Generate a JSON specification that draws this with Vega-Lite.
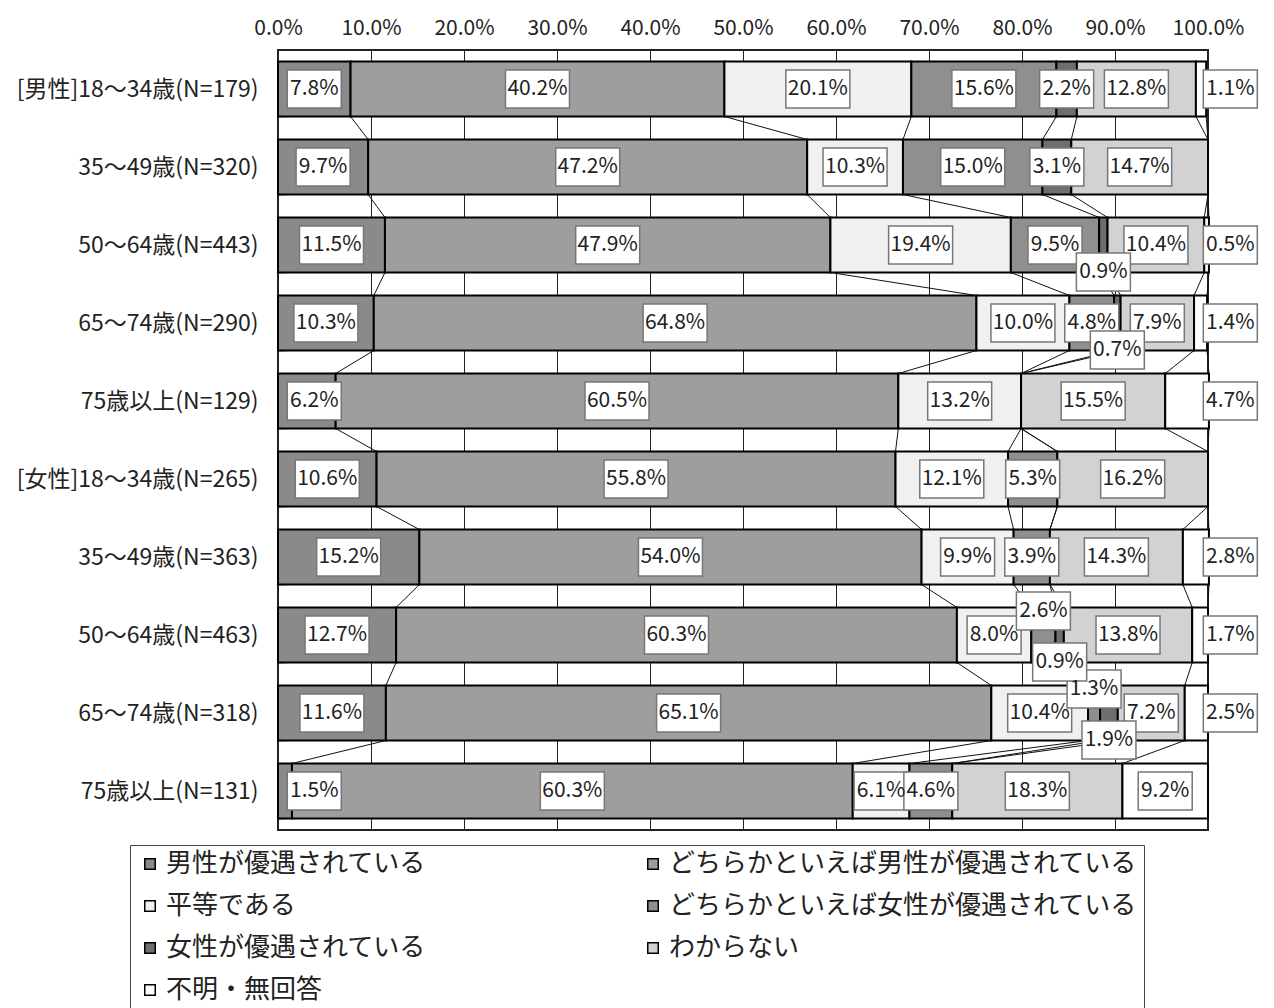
{
  "$schema": "https://vega.github.io/schema/vega-lite/v6.json",
  "width": 930,
  "height": 780,
  "autosize": {"type": "none"},
  "padding": {"left": 278, "top": 50, "right": 66, "bottom": 178},
  "background": "white",
  "config": {
    "font": "Noto Sans CJK JP",
    "view": {"stroke": "#222", "strokeWidth": 2}
  },
  "data": {
    "values": [
      {"ri": 0, "row": "[男性]18～34歳(N=179)", "k": 1, "cat": "男性が優遇されている", "value": 7.8},
      {"ri": 0, "row": "[男性]18～34歳(N=179)", "k": 2, "cat": "どちらかといえば男性が優遇されている", "value": 40.2},
      {"ri": 0, "row": "[男性]18～34歳(N=179)", "k": 3, "cat": "平等である", "value": 20.1},
      {"ri": 0, "row": "[男性]18～34歳(N=179)", "k": 4, "cat": "どちらかといえば女性が優遇されている", "value": 15.6},
      {"ri": 0, "row": "[男性]18～34歳(N=179)", "k": 5, "cat": "女性が優遇されている", "value": 2.2},
      {"ri": 0, "row": "[男性]18～34歳(N=179)", "k": 6, "cat": "わからない", "value": 12.8},
      {"ri": 0, "row": "[男性]18～34歳(N=179)", "k": 7, "cat": "不明・無回答", "value": 1.1},
      {"ri": 1, "row": "35～49歳(N=320)", "k": 1, "cat": "男性が優遇されている", "value": 9.7},
      {"ri": 1, "row": "35～49歳(N=320)", "k": 2, "cat": "どちらかといえば男性が優遇されている", "value": 47.2},
      {"ri": 1, "row": "35～49歳(N=320)", "k": 3, "cat": "平等である", "value": 10.3},
      {"ri": 1, "row": "35～49歳(N=320)", "k": 4, "cat": "どちらかといえば女性が優遇されている", "value": 15.0},
      {"ri": 1, "row": "35～49歳(N=320)", "k": 5, "cat": "女性が優遇されている", "value": 3.1},
      {"ri": 1, "row": "35～49歳(N=320)", "k": 6, "cat": "わからない", "value": 14.7},
      {"ri": 1, "row": "35～49歳(N=320)", "k": 7, "cat": "不明・無回答", "value": 0},
      {"ri": 2, "row": "50～64歳(N=443)", "k": 1, "cat": "男性が優遇されている", "value": 11.5},
      {"ri": 2, "row": "50～64歳(N=443)", "k": 2, "cat": "どちらかといえば男性が優遇されている", "value": 47.9},
      {"ri": 2, "row": "50～64歳(N=443)", "k": 3, "cat": "平等である", "value": 19.4},
      {"ri": 2, "row": "50～64歳(N=443)", "k": 4, "cat": "どちらかといえば女性が優遇されている", "value": 9.5},
      {"ri": 2, "row": "50～64歳(N=443)", "k": 5, "cat": "女性が優遇されている", "value": 0.9},
      {"ri": 2, "row": "50～64歳(N=443)", "k": 6, "cat": "わからない", "value": 10.4},
      {"ri": 2, "row": "50～64歳(N=443)", "k": 7, "cat": "不明・無回答", "value": 0.5},
      {"ri": 3, "row": "65～74歳(N=290)", "k": 1, "cat": "男性が優遇されている", "value": 10.3},
      {"ri": 3, "row": "65～74歳(N=290)", "k": 2, "cat": "どちらかといえば男性が優遇されている", "value": 64.8},
      {"ri": 3, "row": "65～74歳(N=290)", "k": 3, "cat": "平等である", "value": 10.0},
      {"ri": 3, "row": "65～74歳(N=290)", "k": 4, "cat": "どちらかといえば女性が優遇されている", "value": 4.8},
      {"ri": 3, "row": "65～74歳(N=290)", "k": 5, "cat": "女性が優遇されている", "value": 0.7},
      {"ri": 3, "row": "65～74歳(N=290)", "k": 6, "cat": "わからない", "value": 7.9},
      {"ri": 3, "row": "65～74歳(N=290)", "k": 7, "cat": "不明・無回答", "value": 1.4},
      {"ri": 4, "row": "75歳以上(N=129)", "k": 1, "cat": "男性が優遇されている", "value": 6.2},
      {"ri": 4, "row": "75歳以上(N=129)", "k": 2, "cat": "どちらかといえば男性が優遇されている", "value": 60.5},
      {"ri": 4, "row": "75歳以上(N=129)", "k": 3, "cat": "平等である", "value": 13.2},
      {"ri": 4, "row": "75歳以上(N=129)", "k": 4, "cat": "どちらかといえば女性が優遇されている", "value": 0},
      {"ri": 4, "row": "75歳以上(N=129)", "k": 5, "cat": "女性が優遇されている", "value": 0},
      {"ri": 4, "row": "75歳以上(N=129)", "k": 6, "cat": "わからない", "value": 15.5},
      {"ri": 4, "row": "75歳以上(N=129)", "k": 7, "cat": "不明・無回答", "value": 4.7},
      {"ri": 5, "row": "[女性]18～34歳(N=265)", "k": 1, "cat": "男性が優遇されている", "value": 10.6},
      {"ri": 5, "row": "[女性]18～34歳(N=265)", "k": 2, "cat": "どちらかといえば男性が優遇されている", "value": 55.8},
      {"ri": 5, "row": "[女性]18～34歳(N=265)", "k": 3, "cat": "平等である", "value": 12.1},
      {"ri": 5, "row": "[女性]18～34歳(N=265)", "k": 4, "cat": "どちらかといえば女性が優遇されている", "value": 5.3},
      {"ri": 5, "row": "[女性]18～34歳(N=265)", "k": 5, "cat": "女性が優遇されている", "value": 0},
      {"ri": 5, "row": "[女性]18～34歳(N=265)", "k": 6, "cat": "わからない", "value": 16.2},
      {"ri": 5, "row": "[女性]18～34歳(N=265)", "k": 7, "cat": "不明・無回答", "value": 0},
      {"ri": 6, "row": "35～49歳(N=363)", "k": 1, "cat": "男性が優遇されている", "value": 15.2},
      {"ri": 6, "row": "35～49歳(N=363)", "k": 2, "cat": "どちらかといえば男性が優遇されている", "value": 54.0},
      {"ri": 6, "row": "35～49歳(N=363)", "k": 3, "cat": "平等である", "value": 9.9},
      {"ri": 6, "row": "35～49歳(N=363)", "k": 4, "cat": "どちらかといえば女性が優遇されている", "value": 3.9},
      {"ri": 6, "row": "35～49歳(N=363)", "k": 5, "cat": "女性が優遇されている", "value": 0},
      {"ri": 6, "row": "35～49歳(N=363)", "k": 6, "cat": "わからない", "value": 14.3},
      {"ri": 6, "row": "35～49歳(N=363)", "k": 7, "cat": "不明・無回答", "value": 2.8},
      {"ri": 7, "row": "50～64歳(N=463)", "k": 1, "cat": "男性が優遇されている", "value": 12.7},
      {"ri": 7, "row": "50～64歳(N=463)", "k": 2, "cat": "どちらかといえば男性が優遇されている", "value": 60.3},
      {"ri": 7, "row": "50～64歳(N=463)", "k": 3, "cat": "平等である", "value": 8.0},
      {"ri": 7, "row": "50～64歳(N=463)", "k": 4, "cat": "どちらかといえば女性が優遇されている", "value": 2.6},
      {"ri": 7, "row": "50～64歳(N=463)", "k": 5, "cat": "女性が優遇されている", "value": 0.9},
      {"ri": 7, "row": "50～64歳(N=463)", "k": 6, "cat": "わからない", "value": 13.8},
      {"ri": 7, "row": "50～64歳(N=463)", "k": 7, "cat": "不明・無回答", "value": 1.7},
      {"ri": 8, "row": "65～74歳(N=318)", "k": 1, "cat": "男性が優遇されている", "value": 11.6},
      {"ri": 8, "row": "65～74歳(N=318)", "k": 2, "cat": "どちらかといえば男性が優遇されている", "value": 65.1},
      {"ri": 8, "row": "65～74歳(N=318)", "k": 3, "cat": "平等である", "value": 10.4},
      {"ri": 8, "row": "65～74歳(N=318)", "k": 4, "cat": "どちらかといえば女性が優遇されている", "value": 1.3},
      {"ri": 8, "row": "65～74歳(N=318)", "k": 5, "cat": "女性が優遇されている", "value": 1.9},
      {"ri": 8, "row": "65～74歳(N=318)", "k": 6, "cat": "わからない", "value": 7.2},
      {"ri": 8, "row": "65～74歳(N=318)", "k": 7, "cat": "不明・無回答", "value": 2.5},
      {"ri": 9, "row": "75歳以上(N=131)", "k": 1, "cat": "男性が優遇されている", "value": 1.5},
      {"ri": 9, "row": "75歳以上(N=131)", "k": 2, "cat": "どちらかといえば男性が優遇されている", "value": 60.3},
      {"ri": 9, "row": "75歳以上(N=131)", "k": 3, "cat": "平等である", "value": 6.1},
      {"ri": 9, "row": "75歳以上(N=131)", "k": 4, "cat": "どちらかといえば女性が優遇されている", "value": 4.6},
      {"ri": 9, "row": "75歳以上(N=131)", "k": 5, "cat": "女性が優遇されている", "value": 0},
      {"ri": 9, "row": "75歳以上(N=131)", "k": 6, "cat": "わからない", "value": 18.3},
      {"ri": 9, "row": "75歳以上(N=131)", "k": 7, "cat": "不明・無回答", "value": 9.2}
    ]
  },
  "transform": [
    {"stack": "value", "groupby": ["row"], "sort": [{"field": "k", "order": "ascending"}], "as": ["x0", "x1"]},
    {"window": [{"op": "lead", "field": "x1", "as": "nx"}, {"op": "lead", "field": "row", "as": "nrow"}], "groupby": ["cat"], "sort": [{"field": "ri", "order": "ascending"}]},
    {"window": [{"op": "lead", "field": "value", "as": "nextv"}], "groupby": ["row"], "sort": [{"field": "k", "order": "ascending"}]},
    {"calculate": "format(datum.value, '.1f') + '%'", "as": "label"},
    {"calculate": "datum.k == 7 && datum.value < 5 ? 102.4 : max((datum.x0 + datum.x1) / 2, 3.9)", "as": "lx"},
    {"calculate": "datum.value <= 0 ? 'none' : (datum.k == 4 && datum.value < 3 && datum.nextv > 0 && datum.nextv < 2) ? 'above' : (datum.k == 5 && datum.value < 2) ? 'below' : 'mid'", "as": "lpos"}
  ],
  "layer": [
    {
      "transform": [{"filter": "datum.value > 0"}],
      "mark": {"type": "bar", "stroke": "#000", "strokeWidth": 2},
      "encoding": {
        "x": {
          "field": "x0", "type": "quantitative",
          "scale": {"domain": [0, 100], "nice": false, "zero": false},
          "axis": {
            "orient": "top", "values": [0, 10, 20, 30, 40, 50, 60, 70, 80, 90, 100],
            "labelExpr": "format(datum.value, '.1f') + '%'",
            "labelOverlap": false, "labelFlush": false,
            "title": null, "ticks": false, "domain": false,
            "grid": true, "gridColor": "#222", "gridWidth": 1,
            "labelFontSize": 21, "labelColor": "#222", "labelPadding": 12
          }
        },
        "x2": {"field": "x1"},
        "y": {
          "field": "row", "type": "nominal",
          "scale": {
            "domain": ["[男性]18～34歳(N=179)", "35～49歳(N=320)", "50～64歳(N=443)", "65～74歳(N=290)", "75歳以上(N=129)", "[女性]18～34歳(N=265)", "35～49歳(N=363)", "50～64歳(N=463)", "65～74歳(N=318)", "75歳以上(N=131)"],
            "paddingInner": 0.295, "paddingOuter": 0.1475
          },
          "axis": {
            "title": null, "labelFontSize": 23, "labelColor": "#222", "labelLimit": 400,
            "labelPadding": 28, "domain": false, "grid": false,
            "tickBand": "extent", "tickSize": -8, "tickColor": "#222", "tickWidth": 1.5
          }
        },
        "fill": {
          "field": "cat", "type": "nominal",
          "scale": {
            "domain": ["男性が優遇されている", "どちらかといえば男性が優遇されている", "平等である", "どちらかといえば女性が優遇されている", "女性が優遇されている", "わからない", "不明・無回答"],
            "range": ["#8a8a8a", "#9e9e9e", "#f0f0f0", "#8f8f8f", "#6e6e6e", "#d2d2d2", "#ffffff"]
          },
          "legend": {
            "title": null, "orient": "none", "legendX": -148, "legendY": 795,
            "direction": "horizontal", "columns": 2, "gridAlign": "all",
            "symbolType": "square", "symbolSize": 110,
            "symbolStrokeColor": "#000", "symbolStrokeWidth": 1.5, "symbolOffset": 1,
            "labelFontSize": 26, "labelColor": "#222", "labelLimit": 700, "labelOffset": 3,
            "rowPadding": 16, "columnPadding": 4, "padding": 6,
            "strokeColor": "#444", "fillColor": "#fff"
          }
        }
      }
    },
    {
      "transform": [{"filter": "isValid(datum.nrow)"}],
      "mark": {"type": "rule", "color": "#111", "strokeWidth": 1, "yOffset": 27.5, "y2Offset": -27.5},
      "encoding": {
        "x": {"field": "x1", "type": "quantitative"},
        "x2": {"field": "nx"},
        "y": {"field": "row", "type": "nominal"},
        "y2": {"field": "nrow"}
      }
    },
    {
      "transform": [{"filter": "datum.lpos == 'mid'"}],
      "mark": {"type": "point", "filled": true, "fill": "#fff", "fillOpacity": 1, "stroke": "#777", "strokeOpacity": 1, "strokeWidth": 1.5, "opacity": 1},
      "encoding": {
        "x": {"field": "lx", "type": "quantitative"},
        "y": {"field": "row", "type": "nominal"},
        "shape": {"condition": {"test": "length(datum.label) >= 5", "value": "M-1,-0.594H1V0.594H-1Z"}, "value": "M-1,-0.704H1V0.704H-1Z"},
        "size": {"condition": {"test": "length(datum.label) >= 5", "value": 4096}, "value": 2916}
      }
    },
    {
      "transform": [{"filter": "datum.lpos == 'above'"}],
      "mark": {"type": "point", "filled": true, "fill": "#fff", "fillOpacity": 1, "stroke": "#777", "strokeOpacity": 1, "strokeWidth": 1.5, "opacity": 1, "yOffset": -24},
      "encoding": {
        "x": {"field": "lx", "type": "quantitative"},
        "y": {"field": "row", "type": "nominal"},
        "shape": {"value": "M-1,-0.704H1V0.704H-1Z"},
        "size": {"value": 2916}
      }
    },
    {
      "transform": [{"filter": "datum.lpos == 'below'"}],
      "mark": {"type": "point", "filled": true, "fill": "#fff", "fillOpacity": 1, "stroke": "#777", "strokeOpacity": 1, "strokeWidth": 1.5, "opacity": 1, "yOffset": 27},
      "encoding": {
        "x": {"field": "lx", "type": "quantitative"},
        "y": {"field": "row", "type": "nominal"},
        "shape": {"value": "M-1,-0.704H1V0.704H-1Z"},
        "size": {"value": 2916}
      }
    },
    {
      "transform": [{"filter": "datum.lpos == 'mid'"}],
      "mark": {"type": "text", "fontSize": 21, "color": "#222", "baseline": "middle", "align": "center"},
      "encoding": {
        "x": {"field": "lx", "type": "quantitative"},
        "y": {"field": "row", "type": "nominal"},
        "text": {"field": "label"}
      }
    },
    {
      "transform": [{"filter": "datum.lpos == 'above'"}],
      "mark": {"type": "text", "fontSize": 21, "color": "#222", "baseline": "middle", "align": "center", "yOffset": -24},
      "encoding": {
        "x": {"field": "lx", "type": "quantitative"},
        "y": {"field": "row", "type": "nominal"},
        "text": {"field": "label"}
      }
    },
    {
      "transform": [{"filter": "datum.lpos == 'below'"}],
      "mark": {"type": "text", "fontSize": 21, "color": "#222", "baseline": "middle", "align": "center", "yOffset": 27},
      "encoding": {
        "x": {"field": "lx", "type": "quantitative"},
        "y": {"field": "row", "type": "nominal"},
        "text": {"field": "label"}
      }
    }
  ]
}
